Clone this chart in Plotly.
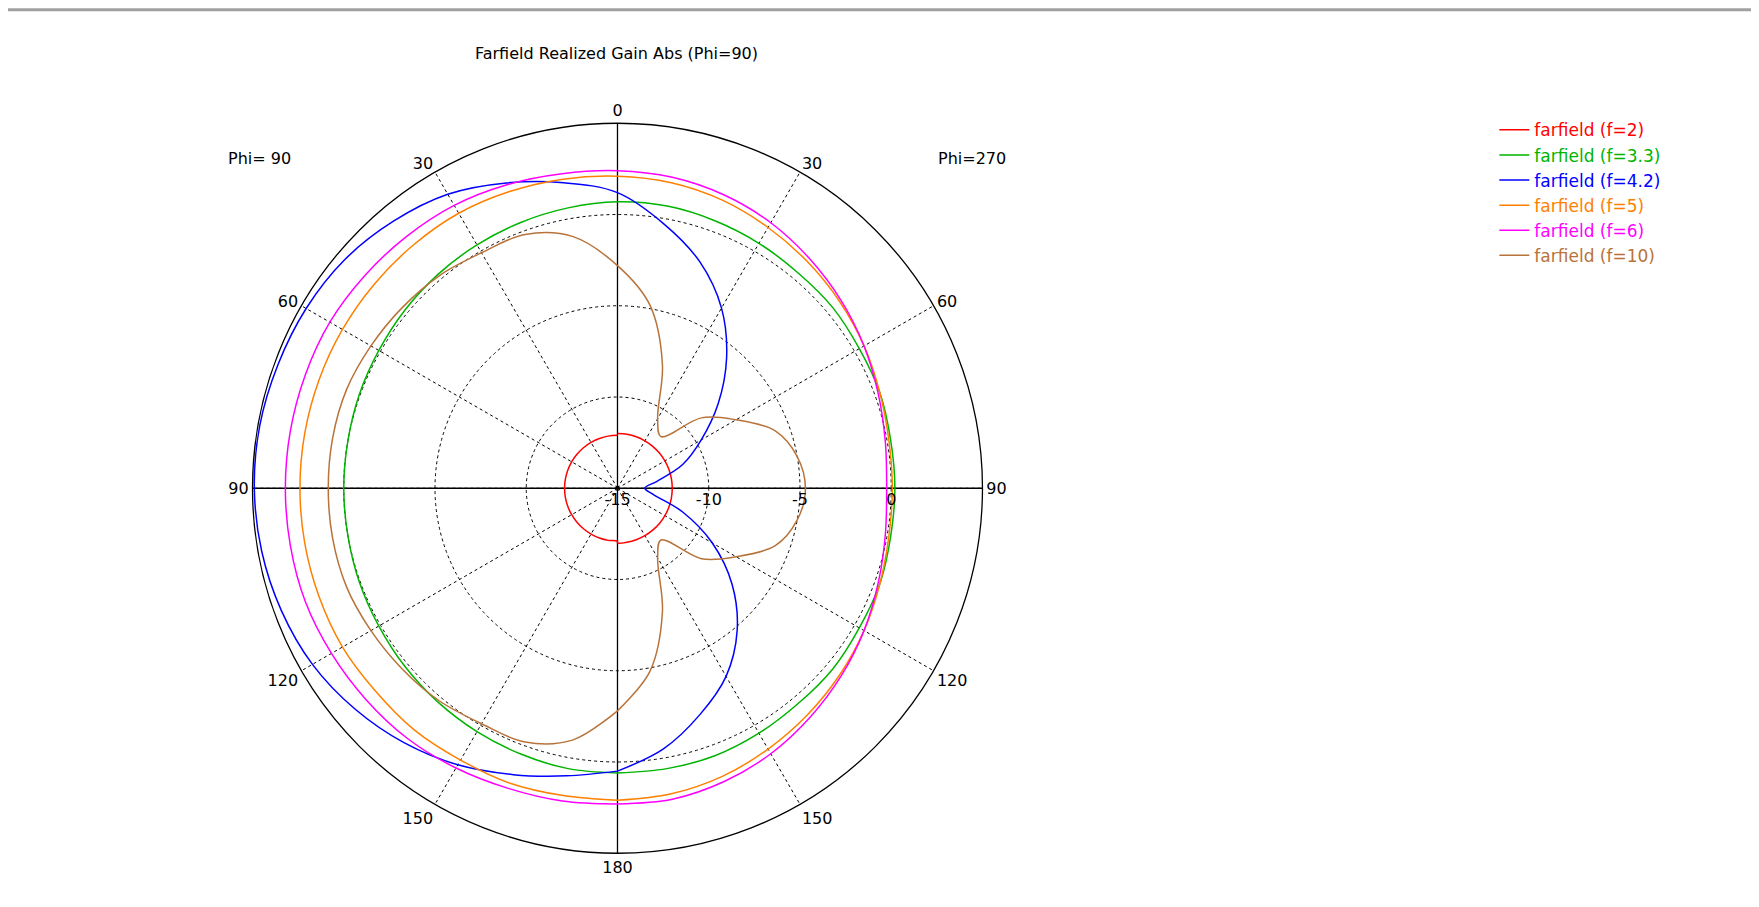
import plotly.graph_objects as go

# theta 0..180 in 10 deg steps; left half = Phi=90, right half = Phi=270
THETA = list(range(0, 181, 10))

NAMES = ["farfield (f=2)", "farfield (f=3.3)", "farfield (f=4.2)",
         "farfield (f=5)", "farfield (f=6)", "farfield (f=10)"]
COLORS = ["#ff0000", "#00b400", "#0000ff", "#ff8000", "#ff00ff", "#b8733a"]

# gain in dB, Phi=90 side
LEFT = [
    [-12.1] * 19,
    [0.7, 0.6, 0.5, 0.4, 0.3, 0.2, 0.1, 0.05, 0.0, 0.0, 0.0, 0.05, 0.1, 0.2, 0.3, 0.4, 0.5, 0.6, 0.6],
    [1.2, 2.0, 2.8, 3.6, 4.1, 4.5, 4.7, 4.8, 4.9, 4.9, 4.8, 4.6, 4.3, 3.8, 3.2, 2.5, 1.7, 1.0, 0.5],
    [2.1, 2.2, 2.3, 2.4, 2.4, 2.4, 2.4, 2.4, 2.4, 2.4, 2.4, 2.4, 2.4, 2.3, 2.3, 2.2, 2.2, 2.1, 2.1],
    [2.4, 2.5, 2.7, 2.9, 3.0, 3.1, 3.2, 3.2, 3.2, 3.2, 3.2, 3.2, 3.1, 3.0, 2.9, 2.7, 2.5, 2.4, 2.3],
    [-2.8, -1.0, -0.2, -0.1, 0.2, 0.4, 0.6, 0.8, 0.85, 0.85, 0.85, 0.8, 0.6, 0.4, 0.2, -0.1, -0.2, -1.0, -2.8],
]
# gain in dB, Phi=270 side
RIGHT = [
    [-12.0] * 19,
    [0.7, 0.7, 0.6, 0.5, 0.4, 0.4, 0.3, 0.3, 0.2, 0.2, 0.2, 0.3, 0.3, 0.4, 0.4, 0.5, 0.6, 0.6, 0.6],
    [1.2, -0.3, -1.8, -3.6, -5.7, -7.8, -9.7, -11.2, -12.8, -13.5, -13.0, -11.2, -9.0, -6.8, -4.8, -3.1, -1.8, -0.5, 0.5],
    [2.1, 2.0, 1.8, 1.5, 1.2, 0.9, 0.6, 0.3, 0.1, 0.06, 0.1, 0.3, 0.6, 0.9, 1.2, 1.5, 1.8, 2.0, 2.1],
    [2.4, 2.3, 2.1, 1.8, 1.4, 1.0, 0.6, 0.2, -0.1, -0.25, -0.1, 0.2, 0.6, 1.0, 1.4, 1.8, 2.1, 2.3, 2.3],
    [-2.8, -4.8, -7.8, -10.6, -11.3, -9.0, -7.5, -5.8, -5.0, -4.7, -5.0, -5.8, -7.5, -9.0, -11.3, -10.6, -7.8, -4.8, -2.8],
]

ANG_TICKS = list(range(0, 360, 30))
ANG_TEXT = ["0", "30", "60", "90", "120", "150", "180", "150", "120", "90", "60", "30"]

FONT = "DejaVu Sans"
fig = go.Figure()

# solid axis cross
for a in [0, 90]:
    fig.add_trace(go.Scatterpolar(r=[5, -15, 5], theta=[a, 0, a + 180], mode="lines",
                                  line=dict(color="black", width=1.3),
                                  showlegend=False, hoverinfo="skip"))

for name, color, left, right in zip(NAMES, COLORS, LEFT, RIGHT):
    ang = THETA + [360 - t for t in THETA[::-1]]
    r = left + right[::-1]
    fig.add_trace(go.Scatterpolar(
        r=r, theta=ang, mode="lines", line=dict(color=color, width=1.5, shape="spline"),
        name=f'<span style="color:{color}">{name}</span>'))

fig.update_layout(
    width=1759, height=907, paper_bgcolor="white", plot_bgcolor="white",
    margin=dict(l=0, r=0, t=0, b=0),
    font=dict(family=FONT, size=16, color="black"),
    polar=dict(
        domain=dict(x=[0.139, 0.554], y=[0.068, 0.873]),
        bgcolor="white",
        angularaxis=dict(rotation=90, direction="counterclockwise",
                         tickvals=ANG_TICKS, ticktext=ANG_TEXT, ticks="",
                         showline=True, linecolor="black", linewidth=1.3,
                         gridcolor="black", griddash="dot", gridwidth=1),
        radialaxis=dict(range=[-15, 5], tickvals=[-15, -10, -5, 0],
                        ticktext=["-15", "-10", "-5", "0"], angle=0, tickangle=0,
                        showline=False, ticks="", gridcolor="black",
                        griddash="dot", gridwidth=1, side="clockwise"),
    ),
    legend=dict(x=0.845, y=0.885, xanchor="left", yanchor="top",
                font=dict(size=17), bgcolor="rgba(0,0,0,0)", tracegroupgap=4),
    shapes=[dict(type="line", xref="paper", yref="paper", x0=0, x1=1, y0=0.998, y1=0.998,
                 line=dict(color="#a0a0a0", width=3))],
    annotations=[
        dict(text="Farfield Realized Gain Abs (Phi=90)", x=0.346, y=0.963, xref="paper",
             yref="paper", showarrow=False, font=dict(size=16)),
        dict(text="Phi= 90", x=0.124, y=0.847, xref="paper", yref="paper",
             showarrow=False, font=dict(size=16)),
        dict(text="Phi=270", x=0.548, y=0.847, xref="paper", yref="paper",
             showarrow=False, font=dict(size=16)),
    ],
)

fig.write_html("out.html")
